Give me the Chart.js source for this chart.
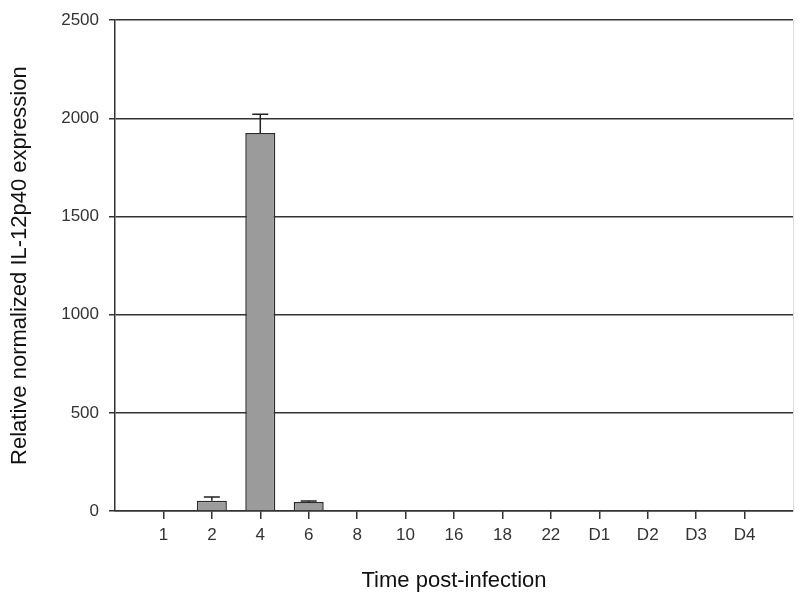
<!DOCTYPE html>
<html>
<head>
<meta charset="utf-8">
<script src="https://cdn.jsdelivr.net/npm/chart.js@4"></script>
<style>
  html, body { margin: 0; padding: 0; background: #fff; }
  #wrap { width: 799px; height: 598px; }
</style>
</head>
<body>
<div id="wrap"><canvas id="il12Chart" width="799" height="598"></canvas></div>
<script>
/* IL-12p40 expression over time post-infection */
const timePoints = ["1", "2", "4", "6", "8", "10", "16", "18", "22", "D1", "D2", "D3", "D4"];
const expression = [0, 52, 1925, 46, 0, 0, 0, 0, 0, 0, 0, 0, 0];
const expressionErr = [0, 19, 96, 5, 0, 0, 0, 0, 0, 0, 0, 0, 0];
const yTicks = [0, 500, 1000, 1500, 2000, 2500];

// empty slot on each side so the categories sit at 1..13 of a 0..14 axis
const labels = [""].concat(timePoints, [""]);
const padded = [null].concat(expression, [null]);
const paddedErr = [null].concat(expressionErr, [null]);

const font = "'Liberation Sans', Arial, Helvetica, sans-serif";

/* upper error bars with caps */
const errorBars = {
  id: "errorBars",
  afterDatasetsDraw(chart) {
    const ctx = chart.ctx;
    const meta = chart.getDatasetMeta(0);
    const y = chart.scales.y;
    ctx.save();
    ctx.strokeStyle = "#222";
    ctx.lineWidth = 1.5;
    meta.data.forEach((bar, i) => {
      const v = padded[i];
      const e = paddedErr[i];
      if (v == null || !e) return;
      const top = y.getPixelForValue(v + e);
      const base = y.getPixelForValue(v);
      ctx.beginPath();
      ctx.moveTo(bar.x, base);
      ctx.lineTo(bar.x, top);
      ctx.moveTo(bar.x - 8, top);
      ctx.lineTo(bar.x + 8, top);
      ctx.stroke();
    });
    ctx.restore();
  }
};

new Chart(document.getElementById("il12Chart"), {
  type: "bar",
  data: {
    labels: labels,
    datasets: [{
      data: padded,
      backgroundColor: "#9b9b9b",
      borderColor: "#2a2a2a",
      borderWidth: 1.5,
      borderSkipped: "bottom",
      categoryPercentage: 1,
      barPercentage: 0.62
    }]
  },
  options: {
    responsive: false,
    animation: false,
    layout: { padding: { top: 20, right: 0, left: 0, bottom: 0 } },
    plugins: {
      legend: { display: false },
      tooltip: { enabled: false }
    },
    scales: {
      x: {
        offset: false,
        afterFit(scale) { scale.height = 87; },
        grid: {
          offset: false,
          drawOnChartArea: false,
          drawTicks: true,
          tickLength: 8,
          lineWidth: 1.5,
          color: (c) => (c.index === 0 || c.index === labels.length - 1) ? "rgba(0,0,0,0)" : "#333"
        },
        border: { color: "#333", width: 1.5 },
        ticks: {
          autoSkip: false,
          maxRotation: 0,
          padding: 6,
          color: "#333",
          font: { family: font, size: 17 }
        },
        title: {
          display: true,
          text: "Time post-infection",
          color: "#111",
          font: { family: font, size: 22 },
          padding: { top: 0, bottom: 4 }
        }
      },
      y: {
        min: 0,
        max: 2500,
        afterFit(scale) { scale.width = 115; },
        afterBuildTicks(scale) { scale.ticks = yTicks.map(v => ({ value: v })); },
        grid: {
          drawOnChartArea: true,
          drawTicks: true,
          tickLength: 6,
          lineWidth: 1.5,
          color: "#333"
        },
        border: { color: "#333", width: 1.5 },
        ticks: {
          padding: 10,
          color: "#333",
          font: { family: font, size: 17 },
          callback: (v) => String(v)
        },
        title: {
          display: true,
          text: "Relative normalized IL-12p40 expression",
          color: "#111",
          font: { family: font, size: 22 },
          padding: { top: 7, bottom: 0 }
        }
      },
      yRight: {
        position: "right",
        min: 0,
        max: 2500,
        afterFit(scale) { scale.width = 1; },
        grid: { drawOnChartArea: false, drawTicks: false },
        border: { color: "#dcdcdc", width: 1 },
        ticks: { display: false }
      }
    }
  },
  plugins: [errorBars]
});
</script>
</body>
</html>
